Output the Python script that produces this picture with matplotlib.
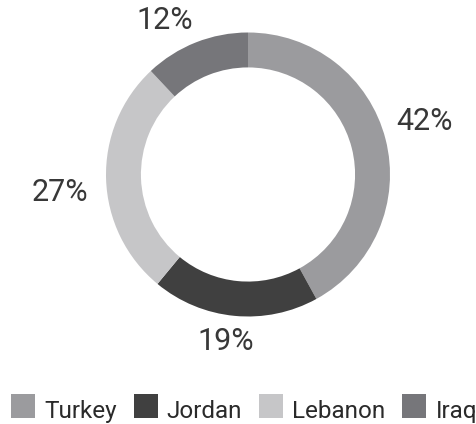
import matplotlib
matplotlib.use("Agg")
import matplotlib.pyplot as plt
from matplotlib.patches import Rectangle
import numpy as np

plt.rcParams['font.family'] = ['Roboto', 'DejaVu Sans']

categories = ["Turkey", "Jordan", "Lebanon", "Iraq"]
values = [42, 19, 27, 12]
labels = ["42%", "19%", "27%", "12%"]
colors = ["#9b9b9e", "#404040", "#c6c6c8", "#76767a"]
# label offsets in pixels from the outer edge at the wedge's mid angle
label_offsets = [(39, 18), (-9, -26), (-46, -14), (-31, 22)]

W, H = 476, 424
dpi = 100
fig = plt.figure(figsize=(W / dpi, H / dpi), dpi=dpi)

cx, cy, R = 248, 424 - 174.5, 142
ax = fig.add_axes([(cx - R) / W, (cy - R) / H, 2 * R / W, 2 * R / H])
wedges, _ = ax.pie(values, colors=colors, startangle=90, counterclock=False,
                   radius=1, wedgeprops=dict(width=0.246, linewidth=0))
ax.set_xlim(-1, 1)
ax.set_ylim(-1, 1)
ax.set_aspect('equal')
ax.axis('off')

for w, lab, off in zip(wedges, labels, label_offsets):
    ang = np.deg2rad((w.theta1 + w.theta2) / 2)
    ax.annotate(lab, xy=(np.cos(ang), np.sin(ang)), xytext=off,
                textcoords='offset pixels', ha='center', va='center',
                fontsize=22, color='#383838', annotation_clip=False)

# manual legend (pixel layout)
renderer = fig.canvas.get_renderer()
x = 11
sq = 24
ytop = 394
for cat, col in zip(categories, colors):
    fig.add_artist(Rectangle((x / W, (H - ytop - sq) / H), sq / W, sq / H,
                             transform=fig.transFigure, facecolor=col,
                             edgecolor='none'))
    t = fig.text((x + sq + 9) / W, (H - 418) / H, cat, fontsize=17.5,
                 color='#2a2a2a', ha='left', va='baseline')
    wpx = t.get_window_extent(renderer).width
    x = x + sq + 9 + wpx + 17

fig.savefig("out.png", dpi=dpi)
